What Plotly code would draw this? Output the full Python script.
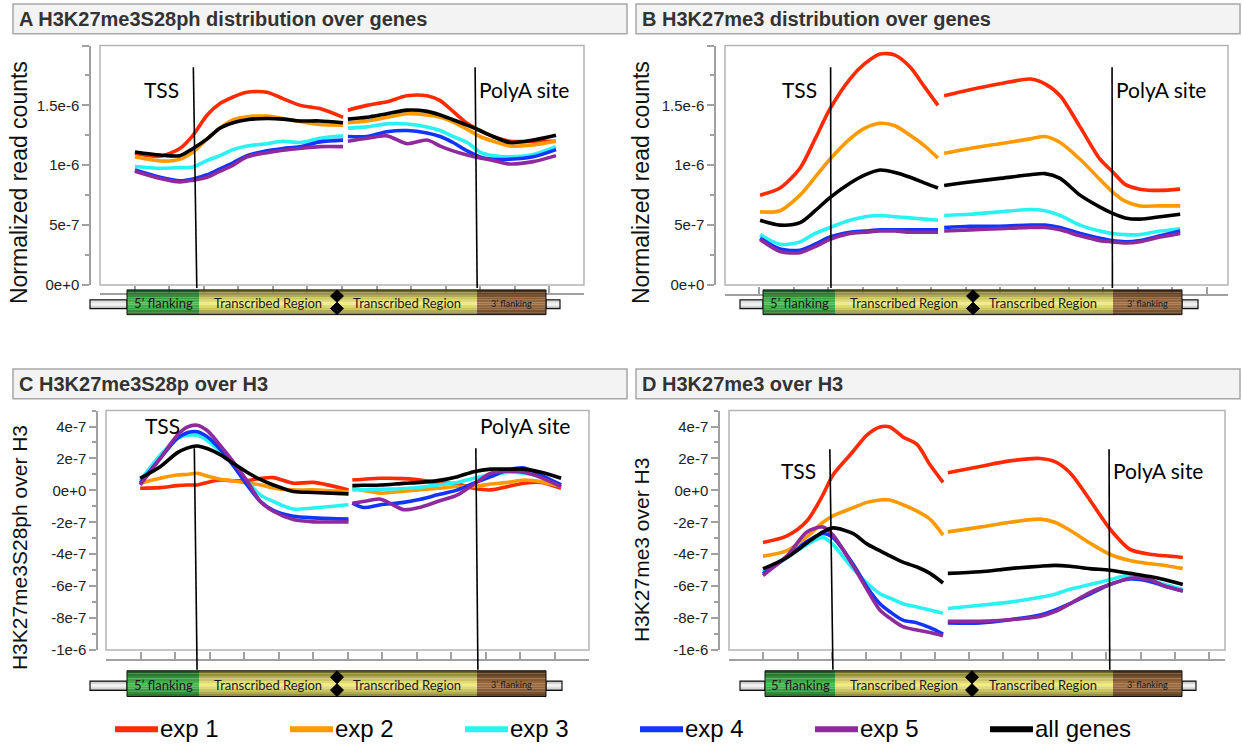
import plotly.graph_objects as go

W, H = 1242, 751

SERIES = ["exp 1", "exp 2", "exp 3", "exp 4", "exp 5", "all genes"]
COLORS = ["#ff2a00", "#ff9900", "#2af2f2", "#1035ff", "#8e2a9c", "#000000"]

# ---------------- data ----------------
# Panel A: normalized read counts, units of 1e-6 ; None = break between halves
A_X = [1.01, 1.74, 2.31, 2.69, 3.10, 3.47, 3.85, 4.25, 4.83, 5.29, 5.79, 6.36, 7.03, None,
       7.17, 7.72, 8.30, 8.88, 9.46, 9.84, 10.21, 10.62, 10.99, 11.37, 11.86, 12.53, 13.19]
A_EXP1 = [1.10, 1.075, 1.14, 1.25, 1.42, 1.515, 1.57, 1.61, 1.61, 1.556, 1.50, 1.473, 1.40, None,
          1.46, 1.50, 1.53, 1.58, 1.58, 1.54, 1.45, 1.35, 1.29, 1.24, 1.20, 1.20, 1.20]
A_EXP2 = [1.07, 1.035, 1.05, 1.11, 1.22, 1.31, 1.38, 1.405, 1.41, 1.39, 1.365, 1.34, 1.335, None,
          1.355, 1.37, 1.40, 1.43, 1.42, 1.40, 1.36, 1.30, 1.24, 1.20, 1.16, 1.17, 1.20]
A_EXP3 = [0.99, 0.975, 0.98, 0.985, 1.04, 1.08, 1.13, 1.16, 1.18, 1.20, 1.19, 1.225, 1.245, None,
          1.31, 1.32, 1.345, 1.345, 1.32, 1.29, 1.24, 1.19, 1.11, 1.08, 1.07, 1.09, 1.155]
A_EXP4 = [0.96, 0.90, 0.87, 0.885, 0.92, 0.97, 1.02, 1.08, 1.12, 1.14, 1.155, 1.195, 1.21, None,
          1.24, 1.24, 1.28, 1.29, 1.27, 1.24, 1.19, 1.12, 1.07, 1.05, 1.05, 1.07, 1.13]
A_EXP5 = [0.95, 0.89, 0.86, 0.875, 0.90, 0.95, 1.00, 1.07, 1.105, 1.125, 1.14, 1.155, 1.155, None,
          1.20, 1.225, 1.245, 1.18, 1.21, 1.16, 1.12, 1.085, 1.06, 1.04, 1.01, 1.03, 1.08]
A_ALL = [1.11, 1.085, 1.08, 1.14, 1.22, 1.31, 1.355, 1.38, 1.39, 1.385, 1.37, 1.37, 1.355, None,
         1.385, 1.40, 1.43, 1.46, 1.45, 1.42, 1.38, 1.335, 1.29, 1.24, 1.19, 1.21, 1.25]

# Panel B: normalized read counts, units of 1e-6
B_X = [1.02, 1.60, 2.18, 2.62, 3.05, 3.63, 4.07, 4.51, 4.94, 5.38, 5.81, 6.19, None,
       6.37, 7.12, 7.99, 8.87, 9.30, 9.74, 10.32, 10.90, 11.25, 11.63, 12.06, 12.65, 13.23]
B_EXP1 = [0.75, 0.81, 0.975, 1.22, 1.47, 1.72, 1.85, 1.93, 1.92, 1.82, 1.65, 1.50, None,
          1.58, 1.63, 1.68, 1.72, 1.68, 1.58, 1.32, 1.05, 0.95, 0.84, 0.80, 0.79, 0.80]
B_EXP2 = [0.61, 0.62, 0.75, 0.90, 1.05, 1.22, 1.31, 1.35, 1.33, 1.25, 1.16, 1.06, None,
          1.10, 1.14, 1.18, 1.22, 1.24, 1.19, 1.05, 0.88, 0.78, 0.70, 0.66, 0.66, 0.66]
B_EXP3 = [0.42, 0.34, 0.36, 0.43, 0.48, 0.54, 0.57, 0.58, 0.57, 0.56, 0.55, 0.54, None,
          0.58, 0.59, 0.61, 0.63, 0.62, 0.58, 0.50, 0.45, 0.43, 0.42, 0.42, 0.45, 0.47]
B_EXP4 = [0.39, 0.30, 0.29, 0.34, 0.40, 0.44, 0.45, 0.46, 0.46, 0.46, 0.46, 0.46, None,
          0.48, 0.49, 0.49, 0.50, 0.50, 0.48, 0.43, 0.39, 0.37, 0.36, 0.37, 0.41, 0.45]
B_EXP5 = [0.38, 0.28, 0.27, 0.32, 0.38, 0.43, 0.44, 0.45, 0.45, 0.44, 0.44, 0.44, None,
          0.45, 0.46, 0.47, 0.48, 0.48, 0.46, 0.41, 0.37, 0.36, 0.35, 0.36, 0.40, 0.43]
B_ALL = [0.54, 0.50, 0.52, 0.62, 0.73, 0.85, 0.92, 0.96, 0.94, 0.90, 0.85, 0.81, None,
         0.83, 0.86, 0.89, 0.92, 0.93, 0.89, 0.75, 0.65, 0.60, 0.56, 0.55, 0.57, 0.59]

# Panel C: ratio over H3, units of 1e-7
C_X = [0.99, 1.57, 2.06, 2.35, 2.64, 2.93, 3.31, 3.69, 4.10, 4.47, 4.85, 5.43, 6.01, 7.03, None,
       7.14, 7.46, 7.96, 8.63, 9.12, 9.61, 10.19, 10.66, 11.15, 11.65, 12.11, 12.61, 13.19]
C_EXP1 = [0.13, 0.17, 0.30, 0.34, 0.34, 0.50, 0.65, 0.60, 0.62, 0.75, 0.80, 0.45, 0.50, 0.03, None,
          0.65, 0.70, 0.76, 0.74, 0.65, 0.50, 0.40, 0.13, 0.03, 0.24, 0.45, 0.50, 0.13]
C_EXP2 = [0.45, 0.76, 0.96, 1.00, 1.07, 0.90, 0.70, 0.60, 0.45, 0.35, 0.15, 0.03, 0.03, -0.10, None,
          0.13, 0.00, -0.17, -0.05, 0.05, 0.13, 0.24, 0.24, 0.40, 0.50, 0.65, 0.55, 0.24]
C_EXP3 = [0.60, 2.20, 3.24, 3.45, 3.45, 3.13, 2.44, 1.60, 0.55, -0.28, -0.69, -1.17, -1.10, -0.90, None,
          0.03, 0.05, 0.07, 0.12, 0.20, 0.34, 0.50, 0.76, 0.96, 1.13, 1.07, 0.86, 0.34]
C_EXP4 = [0.45, 2.00, 3.24, 3.61, 3.68, 3.37, 2.57, 1.55, 0.31, -0.69, -1.25, -1.62, -1.72, -1.80, None,
          -0.80, -1.07, -0.90, -0.75, -0.55, -0.28, 0.03, 0.45, 0.86, 1.27, 1.40, 0.96, 0.34]
C_EXP5 = [0.34, 2.00, 3.44, 3.96, 4.08, 3.75, 2.82, 1.79, 0.55, -0.69, -1.31, -1.83, -1.97, -1.97, None,
          -0.80, -0.70, -0.55, -1.21, -1.05, -0.70, -0.28, 0.38, 1.07, 1.20, 1.13, 0.80, 0.24]
C_ALL = [0.76, 1.48, 2.35, 2.65, 2.78, 2.62, 2.24, 1.69, 1.12, 0.69, 0.34, -0.07, -0.13, -0.22, None,
         0.30, 0.32, 0.34, 0.44, 0.50, 0.61, 0.86, 1.17, 1.33, 1.33, 1.33, 1.13, 0.76]

# Panel D: ratio over H3, units of 1e-7
D_X = [0.99, 1.69, 2.27, 2.74, 3.03, 3.61, 4.02, 4.40, 4.69, 5.07, 5.48, 5.86, 6.24, None,
       6.38, 7.32, 8.19, 9.07, 9.50, 9.94, 10.52, 11.10, 11.69, 12.27, 12.71, 13.23]
D_EXP1 = [-3.26, -2.85, -1.92, -0.27, 0.97, 2.42, 3.46, 3.97, 3.97, 3.35, 2.88, 1.60, 0.50, None,
          1.10, 1.50, 1.85, 2.00, 1.80, 1.10, -0.60, -2.40, -3.70, -4.00, -4.10, -4.20]
D_EXP2 = [-4.13, -3.78, -2.90, -2.00, -1.60, -1.10, -0.75, -0.60, -0.60, -0.90, -1.30, -1.80, -2.80, None,
          -2.60, -2.30, -2.00, -1.80, -2.00, -2.50, -3.30, -4.00, -4.40, -4.60, -4.70, -4.90]
D_EXP3 = [-5.13, -4.20, -3.40, -2.95, -3.40, -4.90, -5.80, -6.47, -6.75, -7.10, -7.30, -7.50, -7.70, None,
          -7.40, -7.20, -7.00, -6.70, -6.50, -6.20, -5.90, -5.60, -5.30, -5.60, -5.90, -6.20]
D_EXP4 = [-5.23, -4.20, -3.20, -2.70, -2.95, -4.60, -6.05, -7.10, -7.60, -8.13, -8.30, -8.60, -9.00, None,
          -8.30, -8.30, -8.10, -7.80, -7.50, -7.10, -6.50, -5.90, -5.55, -5.70, -6.00, -6.30]
D_EXP5 = [-5.33, -4.10, -2.60, -2.30, -2.80, -4.70, -6.20, -7.50, -8.00, -8.54, -8.75, -8.90, -9.10, None,
          -8.20, -8.20, -8.10, -7.90, -7.60, -7.10, -6.40, -5.90, -5.50, -5.60, -6.00, -6.30]
D_ALL = [-4.92, -4.20, -3.30, -2.60, -2.35, -2.70, -3.35, -3.78, -4.10, -4.50, -4.80, -5.20, -5.80, None,
         -5.20, -5.10, -4.90, -4.75, -4.70, -4.75, -4.90, -5.00, -5.20, -5.40, -5.60, -5.90]

# TSS / PolyA marker positions (x units, top->bottom)
A_MARK = {"tss": (2.70, 2.80), "polya": (10.85, 10.91)}
B_MARK = {"tss": (3.07, 3.08), "polya": (11.25, 11.26)}
C_MARK = {"tss": (2.56, 2.64), "polya": (10.72, 10.78)}
D_MARK = {"tss": (2.94, 3.03), "polya": (11.08, 11.10)}

TOP_TICKS = [0, 5e-7, 1e-6, 1.5e-6, 2e-6]
TOP_TICKTEXT = ["0e+0", "5e-7", "1e-6", "1.5e-6", ""]
TOP_MINOR = [2.5e-7, 7.5e-7, 1.25e-6, 1.75e-6]
BOT_TICKS = [-1e-6, -8e-7, -6e-7, -4e-7, -2e-7, 0, 2e-7, 4e-7]
BOT_TICKTEXT = ["-1e-6", "-8e-7", "-6e-7", "-4e-7", "-2e-7", "0e+0", "2e-7", "4e-7"]
BOT_MINOR = [-9e-7, -7e-7, -5e-7, -3e-7, -1e-7, 1e-7, 3e-7, 5e-7]

PANELS = [
    dict(key="A", title="A H3K27me3S28ph distribution over genes", ytitle="Normalized read counts",
         x=A_X, ys=[A_EXP1, A_EXP2, A_EXP3, A_EXP4, A_EXP5, A_ALL], scale=1e-6, mark=A_MARK,
         ticks=TOP_TICKS, ticktext=TOP_TICKTEXT, minor=TOP_MINOR, yrange=[0, 2e-6],
         box=(100, 46, 584, 288), yline=90, xline=297, xrange=[0, 14],
         tbox=(13, 4, 627, 34), ytpos=(19, 185), ytsize=23, marktop=68, markbot=291, labely=90,
         gene=(90, 127, 199, 337, 477, 546, 560, 293, 318)),
    dict(key="B", title="B H3K27me3 distribution over genes", ytitle="Normalized read counts",
         x=B_X, ys=[B_EXP1, B_EXP2, B_EXP3, B_EXP4, B_EXP5, B_ALL], scale=1e-6, mark=B_MARK,
         ticks=TOP_TICKS, ticktext=TOP_TICKTEXT, minor=TOP_MINOR, yrange=[0, 2e-6],
         box=(725, 46, 1228, 288), yline=715, xline=298, xrange=[0, 14.62],
         tbox=(636, 4, 1240, 34), ytpos=(641, 185), ytsize=23, marktop=68, markbot=291, labely=90,
         gene=(740, 763, 835, 973, 1113, 1182, 1198, 293, 318)),
    dict(key="C", title="C H3K27me3S28p over H3", ytitle="H3K27me3S28ph over H3",
         x=C_X, ys=[C_EXP1, C_EXP2, C_EXP3, C_EXP4, C_EXP5, C_ALL], scale=1e-7, mark=C_MARK,
         ticks=BOT_TICKS, ticktext=BOT_TICKTEXT, minor=BOT_MINOR, yrange=[-1e-6, 5e-7],
         box=(106, 415, 589, 657), yline=97, xline=667, xrange=[0, 14],
         tbox=(13, 373, 627, 403), ytpos=(19, 554), ytsize=21, marktop=453, markbot=677, labely=430,
         gene=(90, 127, 199, 337, 477, 546, 562, 678, 704)),
    dict(key="D", title="D H3K27me3 over H3", ytitle="H3K27me3 over H3",
         x=D_X, ys=[D_EXP1, D_EXP2, D_EXP3, D_EXP4, D_EXP5, D_ALL], scale=1e-7, mark=D_MARK,
         ticks=BOT_TICKS, ticktext=BOT_TICKTEXT, minor=BOT_MINOR, yrange=[-1e-6, 5e-7],
         box=(729, 415, 1225, 657), yline=719, xline=667, xrange=[0, 14.46],
         tbox=(636, 373, 1240, 403), ytpos=(641, 556), ytsize=21, marktop=454, markbot=677, labely=476,
         gene=(740, 765, 835, 972, 1113, 1182, 1196, 678, 704)),
]


def px(v):
    return v / W


def py(v):
    return 1 - v / H


def mix(c1, c2, t):
    return "rgb(%d,%d,%d)" % tuple(int(round(a + (b - a) * t)) for a, b in zip(c1, c2))


fig = go.Figure()
shapes = []
annotations = []
LBL_FONT = "Lato, Open Sans, sans-serif"
AX_FONT = "Liberation Sans, Arial, sans-serif"

for i, p in enumerate(PANELS):
    sfx = "" if i == 0 else str(i + 1)
    xa, ya = "x" + sfx, "y" + sfx
    for name, color, vals in zip(SERIES, COLORS, p["ys"]):
        fig.add_trace(go.Scatter(
            x=p["x"], y=[None if v is None else v * p["scale"] for v in vals],
            xaxis=xa, yaxis=ya, mode="lines", name=name, showlegend=False,
            connectgaps=False, hoverinfo="skip",
            line=dict(color=color, width=3.6, shape="spline", smoothing=0.8)))

    l, t, r, b = p["box"]
    fig.layout["xaxis" + sfx] = dict(
        domain=[px(l), px(r)], anchor="free", position=py(p["xline"]), range=p["xrange"],
        showline=True, linecolor="#a0a0a0", linewidth=1.5, ticks="inside", ticklen=7,
        tickcolor="#a0a0a0", tickwidth=1.5, tick0=0, dtick=1, showticklabels=False,
        showgrid=False, zeroline=False, fixedrange=True)
    fig.layout["yaxis" + sfx] = dict(
        domain=[py(b), py(t)], anchor="free", position=px(p["yline"]), range=p["yrange"],
        showline=True, linecolor="#a0a0a0", linewidth=1.5, ticks="outside", ticklen=7,
        tickcolor="#a0a0a0", tickwidth=1.5, tickmode="array", tickvals=p["ticks"],
        ticktext=p["ticktext"], tickfont=dict(family=AX_FONT, size=15, color="#222"),
        minor=dict(tickmode="array", tickvals=p["minor"], ticks="outside", ticklen=4,
                   tickcolor="#a0a0a0", tickwidth=1.5),
        showgrid=False, zeroline=False, fixedrange=True)

    # plot box
    shapes.append(dict(type="rect", xref=xa + " domain", yref=ya + " domain", x0=0, x1=1, y0=0, y1=1,
                       line=dict(color="#b4b4b4", width=1.5), layer="below"))
    # title box
    tl, tt, tr, tb = p["tbox"]
    shapes.append(dict(type="rect", xref="paper", yref="paper", x0=px(tl), x1=px(tr), y0=py(tb), y1=py(tt),
                       fillcolor="#f3f3f3", line=dict(color="#a8a8a8", width=1.5), layer="below"))
    annotations.append(dict(xref="paper", yref="paper", x=px(tl + 4), y=py((tt + tb) / 2), xanchor="left",
                            yanchor="middle", showarrow=False, text="<b>%s</b>" % p["title"],
                            font=dict(family=AX_FONT, size=20, color="#333")))
    # y title
    annotations.append(dict(xref="paper", yref="paper", x=px(p["ytpos"][0]), y=py(p["ytpos"][1]),
                            xanchor="center", yanchor="middle", textangle=-90, showarrow=False,
                            text=p["ytitle"], font=dict(family=AX_FONT, size=p["ytsize"], color="#111")))

    # TSS / PolyA lines + labels
    for k, lab in (("tss", "TSS"), ("polya", "PolyA site")):
        x0, x1 = p["mark"][k]
        shapes.append(dict(type="line", xref=xa, yref="paper", x0=x0, x1=x1,
                           y0=py(p["marktop"]), y1=py(p["markbot"]),
                           line=dict(color="#000", width=1.6), layer="above"))
        if k == "tss":
            annotations.append(dict(xref=xa, yref="paper", x=x0, y=py(p["labely"]),
                                    xanchor="right", yanchor="middle", xshift=-12, showarrow=False,
                                    text=lab, font=dict(family=LBL_FONT, size=21, color="#000")))
        else:
            annotations.append(dict(xref=xa, yref="paper", x=x0, y=py(p["labely"]),
                                    xanchor="left", yanchor="middle", xshift=2, showarrow=False,
                                    text=lab, font=dict(family=LBL_FONT, size=21, color="#000")))

    # gene diagram
    rod_l, g_l, g_r, bow, b_l, b_r, rod_r, gt, gb = p["gene"]
    hgt = gb - gt
    rt, rb = gt + hgt * 0.40, gt + hgt * 0.76
    nb = 6
    for (x0, x1) in ((rod_l, g_l), (b_r, rod_r)):
        for j in range(nb):
            f = 1 - abs(2 * (j + 0.5) / nb - 1)
            shapes.append(dict(type="rect", xref="paper", yref="paper", x0=px(x0), x1=px(x1),
                               y0=py(rt + (rb - rt) * (j + 1) / nb), y1=py(rt + (rb - rt) * j / nb),
                               fillcolor=mix((120, 120, 120), (250, 250, 250), f ** 0.5),
                               line=dict(width=0), layer="above"))
        shapes.append(dict(type="rect", xref="paper", yref="paper", x0=px(x0), x1=px(x1),
                           y0=py(rb), y1=py(rt), line=dict(color="#111", width=1.2), layer="above"))
    nb = 10
    sections = [(g_l, g_r, (15, 60, 20), (70, 190, 80)),
                (g_r, bow, (70, 65, 10), (242, 236, 125)),
                (bow, b_l, (70, 65, 10), (242, 236, 125)),
                (b_l, b_r, (50, 30, 12), (160, 110, 65))]
    for x0, x1, ce, cc in sections:
        for j in range(nb):
            f = 1 - abs(2 * (j + 0.5) / nb - 1.1) / 1.1
            f = max(0.0, min(1.0, f))
            shapes.append(dict(type="rect", xref="paper", yref="paper", x0=px(x0), x1=px(x1),
                               y0=py(gt + hgt * (j + 1) / nb), y1=py(gt + hgt * j / nb),
                               fillcolor=mix(ce, cc, f ** 0.6), line=dict(width=0), layer="above"))
    shapes.append(dict(type="rect", xref="paper", yref="paper", x0=px(g_l), x1=px(b_r),
                       y0=py(gb), y1=py(gt), line=dict(color="#111", width=1), layer="above"))
    w = 6.5
    mid = (gt + gb) / 2
    pts = [(bow, gt), (bow + w, gt + hgt / 4), (bow, mid), (bow + w, gb - hgt / 4), (bow, gb),
           (bow - w, gb - hgt / 4), (bow, mid), (bow - w, gt + hgt / 4)]
    path = "M " + " L ".join("%.5f,%.5f" % (px(a), py(c)) for a, c in pts) + " Z"
    shapes.append(dict(type="path", xref="paper", yref="paper", path=path, fillcolor="#000",
                       line=dict(color="#000", width=1), layer="above"))
    for txt, xc, fs in (("5’ flanking", (g_l + g_r) / 2, 13), ("Transcribed Region", (g_r + bow) / 2, 13),
                        ("Transcribed Region", (bow + b_l) / 2, 13), ("3’ flanking", (b_l + b_r) / 2, 9)):
        annotations.append(dict(xref="paper", yref="paper", x=px(xc), y=py(mid + 1), xanchor="center",
                                yanchor="middle", showarrow=False, text=txt,
                                font=dict(family=LBL_FONT, size=fs, color="#1a1a1a")))

# legend drawn beneath the panels
LEG_X0, LEG_STEP, LEG_LEN, LEG_Y = 115, 175, 43, 737
for k, (name, color) in enumerate(zip(SERIES, COLORS)):
    x0 = LEG_X0 + k * LEG_STEP
    shapes.append(dict(type="line", xref="paper", yref="paper", x0=px(x0), x1=px(x0 + LEG_LEN),
                       y0=py(LEG_Y), y1=py(LEG_Y), line=dict(color=color, width=6), layer="above"))
    annotations.append(dict(xref="paper", yref="paper", x=px(x0 + LEG_LEN), y=py(LEG_Y - 1),
                            xanchor="left", yanchor="middle", showarrow=False, text=name,
                            font=dict(family=AX_FONT, size=24, color="#000")))

fig.update_layout(width=W, height=H, autosize=False, margin=dict(l=0, r=0, t=0, b=0),
                  paper_bgcolor="white", plot_bgcolor="white", showlegend=False,
                  shapes=shapes, annotations=annotations)
fig.write_html("out.html")
